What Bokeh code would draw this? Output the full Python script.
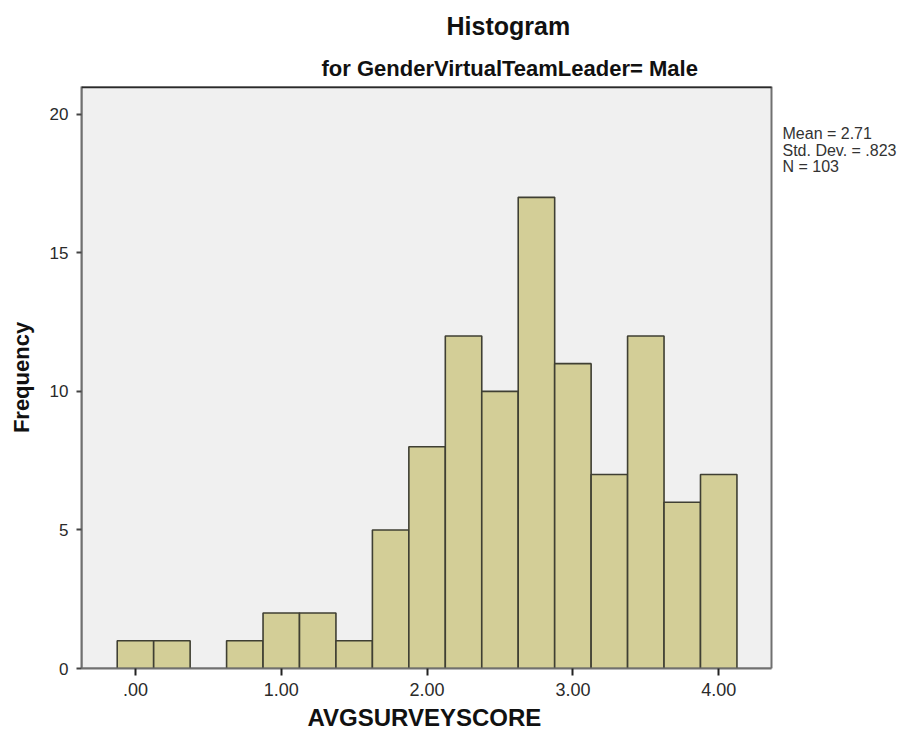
from bokeh.plotting import figure
from bokeh.models import Range1d, FixedTicker, Label, BoxAnnotation, Title
from bokeh.embed import file_html
from bokeh.resources import INLINE

# ---- data ----
bin_centers = [0.00, 0.25, 0.50, 0.75, 1.00, 1.25, 1.50, 1.75, 2.00, 2.25,
               2.50, 2.75, 3.00, 3.25, 3.50, 3.75, 4.00]
counts = [1, 1, 0, 1, 2, 2, 1, 5, 8, 12, 10, 17, 11, 7, 12, 6, 7]
bin_width = 0.25
x_ticks = [0, 1, 2, 3, 4]
x_tick_labels = [".00", "1.00", "2.00", "3.00", "4.00"]
y_ticks = [0, 5, 10, 15, 20]
title_text = "Histogram"
subtitle_text = "for GenderVirtualTeamLeader= Male"
x_title = "AVGSURVEYSCORE"
y_title = "Frequency"
stats_lines = ["Mean = 2.71", "Std. Dev. = .823", "N = 103"]

FONT = "Liberation Sans"

# plot-area limits (data units)
x0, x1 = -0.37, 4.362
y0, y1 = 0.0, 21.0

# canvas geometry (pixels)
W, H = 905, 738
LEFT, RIGHT_PA, BOTTOM_PA, TOP_PA = 81, 771, 668, 86
px_x = (RIGHT_PA - LEFT) / (x1 - x0)
px_y = (BOTTOM_PA - TOP_PA) / (y1 - y0)

# the frame extends to the right edge so that the statistics text can live in it
fx1 = x0 + (W - LEFT) / px_x

p = figure(width=W, height=H, output_backend="svg", toolbar_location=None,
           x_range=Range1d(x0, fx1), y_range=Range1d(y0, y1),
           min_border_left=LEFT, min_border_right=0,
           min_border_top=TOP_PA, min_border_bottom=H - BOTTOM_PA)
p.background_fill_color = "white"
p.border_fill_color = "white"
p.outline_line_color = None
p.grid.visible = False

# plot area background and frame
p.add_layout(BoxAnnotation(left=x0, right=x1, bottom=y0, top=y1, level="underlay",
                           fill_color="#f0f0f0", fill_alpha=1,
                           line_color="#707070", line_width=2, line_alpha=1))
p.add_layout(BoxAnnotation(left=x0, right=x1, bottom=y1, top=y1, level="overlay",
                           fill_alpha=0, line_color="#2a2a2a", line_width=3.5, line_alpha=1))

# bars
lefts, rights, tops = [], [], []
for c, n in zip(bin_centers, counts):
    if n > 0:
        lefts.append(c - bin_width / 2)
        rights.append(c + bin_width / 2)
        tops.append(n)
p.quad(left=lefts, right=rights, top=tops, bottom=0,
       fill_color="#d3ce97", line_color="#3f3f33", line_width=1.6)

# axes
xa = p.xaxis[0]
xa.bounds = (x0, x1)
xa.ticker = FixedTicker(ticks=x_ticks)
xa.major_label_overrides = {t: l for t, l in zip(x_ticks, x_tick_labels)}
xa.minor_tick_line_color = None
xa.major_tick_in = 0
xa.major_tick_out = 7
xa.major_tick_line_width = 2
xa.major_tick_line_color = "#222222"
xa.axis_line_color = "#707070"
xa.axis_line_width = 2
xa.major_label_standoff = 7
xa.major_label_text_font = FONT
xa.major_label_text_font_size = "18px"
xa.major_label_text_color = "#2a2a2a"

ya = p.yaxis[0]
ya.bounds = (y0, y1)
ya.ticker = FixedTicker(ticks=y_ticks)
ya.minor_tick_line_color = None
ya.major_tick_in = 0
ya.major_tick_out = 5
ya.major_tick_line_width = 2
ya.major_tick_line_color = "#444444"
ya.axis_line_color = "#707070"
ya.axis_line_width = 2
ya.major_label_standoff = 8
ya.major_label_text_font = FONT
ya.major_label_text_font_size = "17px"
ya.major_label_text_color = "#2a2a2a"
ya.axis_label = y_title
ya.axis_label_standoff = 13
ya.axis_label_text_font = FONT
ya.axis_label_text_font_style = "bold"
ya.axis_label_text_font_size = "22px"
ya.axis_label_text_color = "#111111"

# titles above the plot area
p.title.text = title_text
p.title.align = "left"
p.title.offset = 365
p.title.text_font = FONT
p.title.text_font_style = "bold"
p.title.text_font_size = "25px"
p.title.text_color = "#111111"
p.title.standoff = 17
p.add_layout(Title(text=subtitle_text, align="left", offset=240, standoff=11,
                   text_font=FONT, text_font_style="bold", text_font_size="22px",
                   text_color="#111111"), "above")

# x-axis title below the tick labels, centred under the plot area
p.add_layout(Title(text=x_title, align="left", offset=226, standoff=7,
                   text_font=FONT, text_font_style="bold", text_font_size="24px",
                   text_color="#111111"), "below")

# stats text
stats_x = x1 + 11 / px_x
for i, line in enumerate(stats_lines):
    p.add_layout(Label(x=stats_x, y=y1 - (47 + 16.5 * i) / px_y, text=line,
                       text_align="left", text_baseline="alphabetic",
                       text_font=FONT, text_font_size="16px", text_color="#333333"))

open("out.html", "w").write(file_html(p, INLINE))
